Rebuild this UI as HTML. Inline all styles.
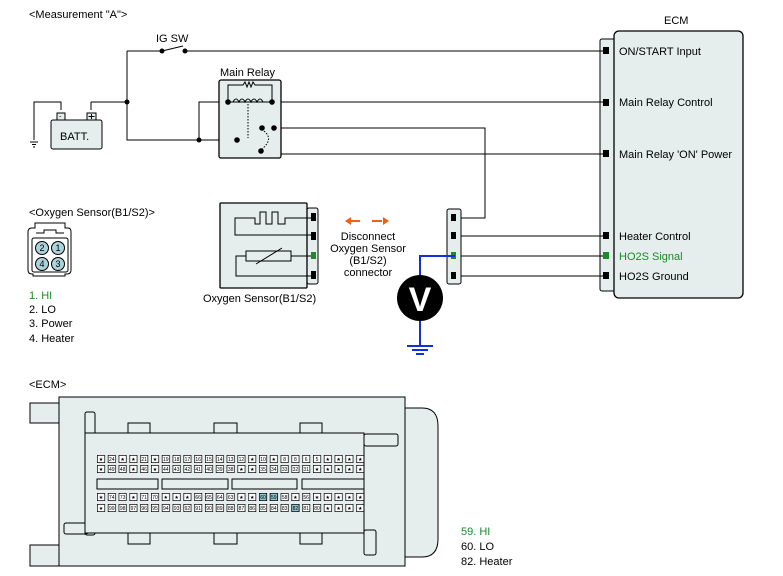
<!DOCTYPE html>
<html><head><meta charset="utf-8"><style>
html,body{margin:0;padding:0;background:#fff;}
svg{display:block;font-family:"Liberation Sans",sans-serif;}
</style></head><body>
<svg width="783" height="576" viewBox="0 0 783 576" xmlns="http://www.w3.org/2000/svg">
<defs>
<pattern id="pa" x="97" y="455" width="10.8" height="10" patternUnits="userSpaceOnUse">
<rect x="0.35" y="0.35" width="7.3" height="7.3" fill="#fff" stroke="#000" stroke-width="0.7"/>
</pattern>
<pattern id="pb" x="97" y="493" width="10.8" height="11" patternUnits="userSpaceOnUse">
<rect x="0.35" y="0.35" width="7.3" height="7.3" fill="#fff" stroke="#000" stroke-width="0.7"/>
</pattern>
</defs>
<g font-size="11" fill="#000">
<text x="29" y="18">&lt;Measurement "A"&gt;</text>
<text x="156" y="42">IG SW</text>
<text x="220" y="76">Main Relay</text>
<text x="664" y="24">ECM</text>
<text x="29" y="216">&lt;Oxygen Sensor(B1/S2)&gt;</text>
<text x="203" y="302">Oxygen Sensor(B1/S2)</text>
<text x="29" y="388">&lt;ECM&gt;</text>
</g>
<rect x="600" y="39" width="16" height="252" rx="2" fill="#e5eded" stroke="#000" stroke-width="1"/>
<rect x="614" y="31" width="129" height="267" rx="5" fill="#e5eded" stroke="#000" stroke-width="1.3"/>
<g font-size="11">
<text x="619" y="55">ON/START Input</text>
<text x="619" y="106">Main Relay Control</text>
<text x="619" y="158">Main Relay 'ON' Power</text>
<text x="619" y="240">Heater Control</text>
<text x="619" y="260" fill="#1a8a2a">HO2S  Signal</text>
<text x="619" y="280">HO2S  Ground</text>
</g>
<g fill="#000"><rect x="603" y="47" width="6" height="7"/><rect x="603" y="99" width="6" height="7"/><rect x="603" y="150" width="6" height="7"/><rect x="603" y="232" width="6" height="7"/><rect x="603" y="272" width="6" height="7"/></g>
<rect x="603" y="252" width="6" height="7" fill="#1a8a2a"/>
<g stroke="#000" stroke-width="1" fill="none">
<path d="M185 51H603M127 51H162M127 51V140H237M91 102H127"/>
<path d="M199 140V102H228M272 102H603M274 128H485V218H458"/>
<path d="M278 128V154H603M458 236H603M458 276H603M420 256H603"/>
<path d="M228 102V85H272V102"/>
<path d="M237 140L268 126"/>
<path d="M34 140V102H61V110M91 110V102"/>
</g>
<g fill="#000"><circle cx="162" cy="51" r="2.5"/><circle cx="185" cy="51" r="2.5"/><path d="M162 51L183 46" stroke="#000"/><circle cx="127" cy="102" r="2.5"/><circle cx="199" cy="140" r="2.5"/></g>
<rect x="51" y="120" width="51" height="29" rx="2" fill="#e5eded" stroke="#000"/>
<rect x="57" y="113" width="8" height="7" fill="#e5eded" stroke="#000"/><rect x="87" y="113" width="9" height="7" fill="#e5eded" stroke="#000"/>
<text x="59" y="118.5" font-size="7">-</text><path d="M91.5 114v5M88.5 116.5h6" stroke="#000"/>
<text x="60" y="140" font-size="11">BATT.</text>
<path d="M30 142h8M32 144.5h4M33 147h2" stroke="#000"/>
<rect x="219" y="80" width="62" height="78" rx="2" fill="#e5eded" stroke="#000" stroke-width="1.3"/>
<path d="M228 102H272V85H255l-2-3-2 5-2-5-2 5-2-5-2 3H228V102" fill="none" stroke="#000"/>
<path d="M233 102q3-6 6 0q3-6 6 0q3-6 6 0q3-6 6 0q3-6 6 0" fill="none" stroke="#000"/>
<path d="M248 104V138" stroke="#000" stroke-dasharray="1.5,1.5"/>
<path d="M264 131q10 8 -2 18" stroke="#000" fill="none" stroke-dasharray="1.5,1.5"/>
<g fill="#000"><circle cx="228" cy="102" r="2.8"/><circle cx="272" cy="102" r="2.8"/><circle cx="237" cy="140" r="2.8"/><circle cx="262" cy="128" r="2.8"/><circle cx="274" cy="128" r="2.8"/><circle cx="261" cy="151" r="2.8"/></g>
<rect x="447" y="209" width="14" height="75" rx="2" fill="#e5eded" stroke="#000"/>
<g fill="#000"><rect x="451" y="214" width="5" height="7"/><rect x="451" y="232" width="5" height="7"/><rect x="451" y="272" width="5" height="7"/></g>
<rect x="451" y="252" width="5" height="7" fill="#1a8a2a"/>
<path d="M455 256H420V275M420 320V346" stroke="#1030e0" stroke-width="2" fill="none"/>
<path d="M407 346h26M412 350h16M416 354h8" stroke="#1030e0" stroke-width="2"/>
<circle cx="420" cy="298" r="23" fill="#000"/>
<text x="420" y="311" font-size="34" font-weight="bold" fill="#fff" text-anchor="middle">V</text>
<g stroke="#f06010" stroke-width="2" fill="#f06010">
<path d="M350 221h10"/><path d="M345 221l6-4v8z" stroke="none"/>
<path d="M372 221h10"/><path d="M389 221l-6-4v8z" stroke="none"/>
</g>
<g font-size="11" text-anchor="middle"><text x="368" y="240">Disconnect</text><text x="368" y="252">Oxygen Sensor</text><text x="368" y="264">(B1/S2)</text><text x="368" y="276">connector</text></g>
<rect x="307" y="208" width="11" height="76" rx="2" fill="#e5eded" stroke="#000"/>
<rect x="220" y="203" width="87" height="85" rx="1" fill="#e5eded" stroke="#000" stroke-width="1.3"/>
<g fill="#000"><rect x="311" y="213" width="5" height="8"/><rect x="311" y="232" width="5" height="8"/><rect x="311" y="271" width="5" height="8"/></g>
<rect x="311" y="252" width="5" height="7" fill="#1a8a2a"/>
<g stroke="#000" fill="none">
<path d="M311 218H285V224H278V212H272V224H266V212H260V224H255V218H235V235H311"/>
<path d="M311 256H291M246 256H236V276H311"/>
<rect x="246" y="251" width="45" height="10"/><path d="M256 264L282 248"/>
</g>
<path d="M28 232q0-4 4-4h3v-5h30v5h3q3 0 3 4v38q0 4-4 4h-2v2H33v-2h-1q-4 0-4-4z" fill="#fff" stroke="#000"/>
<rect x="32" y="238" width="36" height="34" rx="2" fill="#fff" stroke="#000"/>
<path d="M36 233h8v-3h12v3h8" fill="none" stroke="#000"/>
<g fill="#a9d2da" stroke="#000"><circle cx="42" cy="248" r="6.5"/><circle cx="58" cy="248" r="6.5"/><circle cx="42" cy="264" r="6.5"/><circle cx="58" cy="264" r="6.5"/></g>
<g font-size="9" text-anchor="middle"><text x="42" y="251">2</text><text x="58" y="251">1</text><text x="42" y="267">4</text><text x="58" y="267">3</text></g>
<g font-size="11"><text x="29" y="299" fill="#1a8a2a">1. HI</text><text x="29" y="313">2. LO</text><text x="29" y="327">3. Power</text><text x="29" y="342">4. Heater</text></g>
<g fill="#e5eded" stroke="#000">
<rect x="30" y="403" width="30" height="20"/><rect x="30" y="545" width="30" height="21"/>
<path d="M404 408h18q16 0 16 18v113q0 18-16 18h-18z"/>
<rect x="59" y="397" width="346" height="169"/>
<rect x="85" y="412" width="10" height="123" rx="2"/>
<rect x="64" y="523" width="24" height="11" rx="2"/>
<rect x="364" y="434" width="34" height="12" rx="2"/>
<rect x="364" y="530" width="12" height="25" rx="2"/>
<rect x="128" y="423" width="22" height="12"/><rect x="214" y="423" width="23" height="12"/><rect x="300" y="423" width="22" height="12"/>
<rect x="128" y="533" width="22" height="11"/><rect x="214" y="533" width="23" height="11"/><rect x="300" y="533" width="22" height="11"/>
<rect x="85" y="433" width="279" height="100"/>
<rect x="97" y="479" width="61" height="10"/><rect x="162" y="479" width="66" height="10"/><rect x="232" y="479" width="65" height="10"/><rect x="302" y="479" width="62" height="10"/>
</g>
<rect x="97" y="455" width="268" height="18" fill="url(#pa)"/>
<rect x="97" y="493" width="268" height="19" fill="url(#pb)"/>
<g fill="#8fc3d0" stroke="#000" stroke-width="0.7">
<rect x="259.35" y="493.35" width="7.3" height="7.3"/><rect x="270.15" y="493.35" width="7.3" height="7.3"/><rect x="291.75" y="504.35" width="7.3" height="7.3"/>
</g>
<g font-size="5" text-anchor="middle">
<text y="461"><tspan x="101">★</tspan><tspan x="111.8">24</tspan><tspan x="122.6">★</tspan><tspan x="133.4">★</tspan><tspan x="144.2">21</tspan><tspan x="155">★</tspan><tspan x="165.8">19</tspan><tspan x="176.6">18</tspan><tspan x="187.4">17</tspan><tspan x="198.2">16</tspan><tspan x="209">15</tspan><tspan x="219.8">14</tspan><tspan x="230.6">13</tspan><tspan x="241.4">12</tspan><tspan x="252.2">★</tspan><tspan x="263">10</tspan><tspan x="273.8">★</tspan><tspan x="284.6">8</tspan><tspan x="295.4">8</tspan><tspan x="306.2">6</tspan><tspan x="317">5</tspan><tspan x="327.8">★</tspan><tspan x="338.6">★</tspan><tspan x="349.4">★</tspan><tspan x="360.2">★</tspan></text>
<text y="471"><tspan x="101">★</tspan><tspan x="111.8">49</tspan><tspan x="122.6">48</tspan><tspan x="133.4">★</tspan><tspan x="144.2">46</tspan><tspan x="155">★</tspan><tspan x="165.8">44</tspan><tspan x="176.6">43</tspan><tspan x="187.4">42</tspan><tspan x="198.2">41</tspan><tspan x="209">40</tspan><tspan x="219.8">39</tspan><tspan x="230.6">38</tspan><tspan x="241.4">★</tspan><tspan x="252.2">★</tspan><tspan x="263">35</tspan><tspan x="273.8">34</tspan><tspan x="284.6">33</tspan><tspan x="295.4">32</tspan><tspan x="306.2">31</tspan><tspan x="317">★</tspan><tspan x="327.8">★</tspan><tspan x="338.6">★</tspan><tspan x="349.4">★</tspan><tspan x="360.2">★</tspan></text>
<text y="499"><tspan x="101">★</tspan><tspan x="111.8">74</tspan><tspan x="122.6">73</tspan><tspan x="133.4">★</tspan><tspan x="144.2">71</tspan><tspan x="155">70</tspan><tspan x="165.8">★</tspan><tspan x="176.6">★</tspan><tspan x="187.4">★</tspan><tspan x="198.2">66</tspan><tspan x="209">65</tspan><tspan x="219.8">64</tspan><tspan x="230.6">63</tspan><tspan x="241.4">★</tspan><tspan x="252.2">★</tspan><tspan x="263">60</tspan><tspan x="273.8">59</tspan><tspan x="284.6">58</tspan><tspan x="295.4">★</tspan><tspan x="306.2">56</tspan><tspan x="317">★</tspan><tspan x="327.8">★</tspan><tspan x="338.6">★</tspan><tspan x="349.4">★</tspan><tspan x="360.2">★</tspan></text>
<text y="510"><tspan x="101">★</tspan><tspan x="111.8">99</tspan><tspan x="122.6">98</tspan><tspan x="133.4">97</tspan><tspan x="144.2">96</tspan><tspan x="155">95</tspan><tspan x="165.8">94</tspan><tspan x="176.6">93</tspan><tspan x="187.4">92</tspan><tspan x="198.2">91</tspan><tspan x="209">90</tspan><tspan x="219.8">89</tspan><tspan x="230.6">88</tspan><tspan x="241.4">87</tspan><tspan x="252.2">86</tspan><tspan x="263">85</tspan><tspan x="273.8">84</tspan><tspan x="284.6">83</tspan><tspan x="295.4">82</tspan><tspan x="306.2">81</tspan><tspan x="317">80</tspan><tspan x="327.8">★</tspan><tspan x="338.6">★</tspan><tspan x="349.4">★</tspan><tspan x="360.2">★</tspan></text>
</g>
<g font-size="11"><text x="461" y="535" fill="#1a8a2a">59. HI</text><text x="461" y="550">60. LO</text><text x="461" y="565">82. Heater</text></g>
</svg>
</body></html>
